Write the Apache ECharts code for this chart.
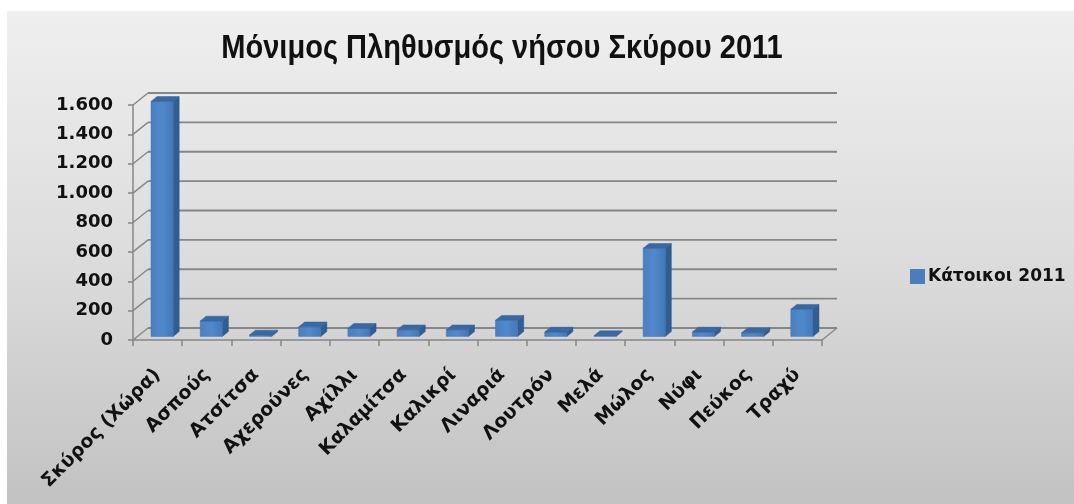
<!DOCTYPE html>
<html>
<head>
<meta charset="utf-8">
<script src="https://cdn.jsdelivr.net/npm/echarts@6/dist/echarts.min.js"></script>
<style>
html,body{margin:0;padding:0;background:#fff;}
#chart{width:1074px;height:504px;}
</style>
</head>
<body>
<div id="chart"></div>
<script>
var categories = ['Σκύρος (Χώρα)', 'Ασπούς', 'Ατσίτσα', 'Αχερούνες', 'Αχίλλι', 'Καλαμίτσα', 'Καλικρί', 'Λιναριά', 'Λουτρόν', 'Μελά', 'Μώλος', 'Νύφι', 'Πεύκος', 'Τραχύ'];
var residents2011 = [1600, 105, 10, 65, 55, 45, 45, 110, 30, 5, 600, 30, 25, 185];
var yTicks = [0, 200, 400, 600, 800, 1000, 1200, 1400, 1600];
var yTickLabels = ['0', '200', '400', '600', '800', '1.000', '1.200', '1.400', '1.600'];
var seriesName = 'Κάτοικοι 2011';
var titleText = 'Μόνιμος Πληθυσμός νήσου Σκύρου 2011';

var DX = 15, DY = -12;
var chart = echarts.init(document.getElementById('chart'));
var wallColor = '#868686';

function wallItem(params, api) {
  var v = api.value(0);
  var band = api.size([1, 0])[0];
  var p0 = api.coord([0, v]);
  var pN = api.coord([categories.length - 1, v]);
  var xl = p0[0] - band / 2, xr = pN[0] + band / 2, y = p0[1];
  var children = [
    {type: 'line', shape: {x1: xl, y1: y, x2: xl + DX, y2: y + DY}, style: {stroke: wallColor, lineWidth: 1.5}},
    {type: 'line', shape: {x1: xl + DX, y1: y + DY, x2: xr + DX, y2: y + DY}, style: {stroke: wallColor, lineWidth: 1.8}}
  ];
  if (v === 0) {
    children.push({type: 'line', shape: {x1: xr, y1: y, x2: xr + DX, y2: y + DY}, style: {stroke: wallColor, lineWidth: 1.5}});
  }
  return {type: 'group', children: children};
}

function barItem(params, api) {
  var i = api.value(0), v = api.value(1);
  var top = api.coord([i, v]);
  var base = api.coord([i, 0]);
  var band = api.size([1, 0])[0];
  var w = band * 0.45;
  var ox = DX * 0.3, oy = DY * 0.3;
  var dx = DX * 0.4, dy = DY * 0.4;
  var x0 = top[0] - w / 2 + ox, x1 = x0 + w;
  var yt = top[1] + oy, yb = base[1] + oy;
  return {type: 'group', children: [
    {type: 'polygon', shape: {points: [[x1, yt], [x1 + dx, yt + dy], [x1 + dx, yb + dy], [x1, yb]]},
      style: {fill: '#2f5e94', stroke: '#2a5486', lineWidth: 0.5}},
    {type: 'rect', shape: {x: x0, y: yt, width: w, height: yb - yt},
      style: {fill: new echarts.graphic.LinearGradient(0, 0, 1, 0, [
        {offset: 0, color: '#4a7fc1'}, {offset: 0.5, color: '#5189cc'}, {offset: 1, color: '#4477b5'}]),
        stroke: '#3d6ea8', lineWidth: 0.5}},
    {type: 'polygon', shape: {points: [[x0, yt], [x0 + dx, yt + dy], [x1 + dx, yt + dy], [x1, yt]]},
      style: {fill: '#3a68a3', stroke: '#33609a', lineWidth: 0.5}}
  ]};
}

var option = {
  animation: false,
  backgroundColor: '#ffffff',
  graphic: [{
    type: 'rect', z: -10, silent: true,
    shape: {x: 7, y: 11, width: 1067, height: 493},
    style: {fill: new echarts.graphic.LinearGradient(0, 0, 0, 1, [
      {offset: 0, color: '#efefef'}, {offset: 0.5, color: '#dcdcdc'}, {offset: 1, color: '#c2c2c2'}])}
  }, {
    type: 'text', z: 10, silent: true,
    x: 502, y: 49, scaleX: 0.88, scaleY: 1,
    style: {text: titleText, fontFamily: 'Liberation Sans', fontWeight: 'bold', fontSize: 33, fill: '#111',
      textAlign: 'center', textVerticalAlign: 'middle'}
  }],
  legend: {
    data: [{name: seriesName, icon: 'rect'}],
    left: 905, top: 263, orient: 'vertical',
    itemWidth: 15, itemHeight: 15, itemGap: 6,
    textStyle: {fontFamily: 'DejaVu Sans', fontWeight: 'bold', fontSize: 17, color: '#111', padding: [0, 0, 0, -2]}
  },
  grid: {left: 133, right: 252, top: 105, bottom: 164, containLabel: false},
  xAxis: {
    type: 'category', data: categories, boundaryGap: true,
    axisLine: {show: true, lineStyle: {color: '#868686', width: 1.5}},
    axisTick: {show: true, length: 6, lineStyle: {color: '#868686', width: 1.5}},
    axisLabel: {rotate: 45, margin: 32, interval: 0, fontFamily: 'DejaVu Sans', fontWeight: 'bold', fontSize: 19, color: '#111'},
    splitLine: {show: false}
  },
  yAxis: {
    type: 'value', min: 0, max: 1600, interval: 200,
    axisLine: {show: true, lineStyle: {color: '#868686', width: 1.5}},
    axisTick: {show: true, length: 5, lineStyle: {color: '#868686', width: 1.5}},
    axisLabel: {margin: 20, fontFamily: 'DejaVu Sans', fontWeight: 'bold', fontSize: 18, color: '#111',
      formatter: function (v) { var k = yTicks.indexOf(v); return k >= 0 ? yTickLabels[k] : ''; }},
    splitLine: {show: false}
  },
  series: [
    {
      type: 'custom', name: 'walls', silent: true, z: 1,
      renderItem: wallItem,
      encode: {x: -1, y: 0},
      data: yTicks.map(function (v) { return [v]; })
    },
    {
      type: 'custom', name: seriesName, z: 3,
      itemStyle: {color: '#4a7ebb'},
      renderItem: barItem,
      encode: {x: 0, y: 1},
      data: residents2011.map(function (v, i) { return [i, v]; })
    }
  ]
};
chart.setOption(option);
</script>
</body>
</html>
